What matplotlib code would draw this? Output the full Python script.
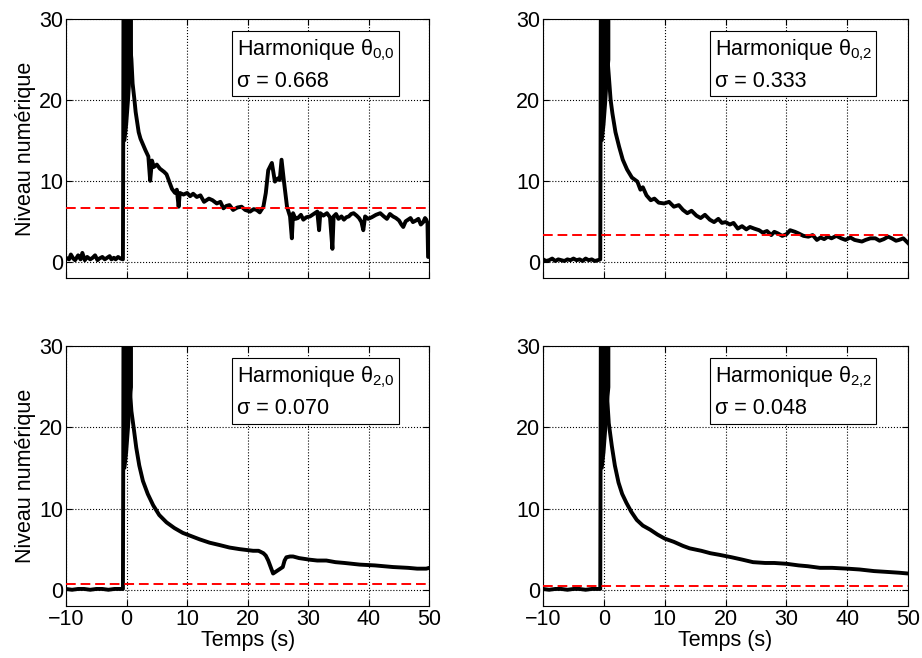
import matplotlib
matplotlib.use("Agg")
import matplotlib.pyplot as plt

plt.rcParams['font.family'] = ['Liberation Sans', 'DejaVu Sans']
plt.rcParams['path.simplify'] = False

# --- data ---
titles = ["0{,}0", "0{,}2", "2{,}0", "2{,}2"]
sigmas = [0.668, 0.333, 0.070, 0.048]

# saturated burst around t = 0 (same in every panel): lower/upper envelope
spike_t = [-0.6, -0.3, 0.0, 0.3, 0.55, 0.8]
spike_lo = [15, 15, 17, 20, 23, 25]
spike_hi = [36, 36, 36, 36, 36, 36]

t00 = [-10, -9.5, -9.2, -8.8, -8.5, -8, -7.6, -7.3, -6.9, -6.5, -6, -5.6, -5.2, -4.8,
       -4.5, -4, -3.6, -3.2, -2.8, -2.5, -2.1, -1.8, -1.4, -1, -0.6, -0.55, -0.5,
       0.8, 1, 1.3, 1.5, 1.8, 2, 2.3, 2.7, 3.1, 3.6, 3.9, 4.2, 4.5, 5, 5.5, 6.2,
       6.6, 7, 7.5, 8, 8.3, 8.6, 8.8, 9.4, 10, 10.5, 11, 11.6, 12.2, 12.8, 13.6, 14.2, 14.9,
       15.5, 16, 16.5, 17, 17.6, 18.3, 19, 19.6, 20.4, 21, 21.5, 22, 22.6, 23, 23.4, 24,
       24.5, 25, 25.3, 25.6, 26, 26.5, 27, 27.3, 27.5, 27.9, 28.3, 28.8, 29.2, 29.7, 30.3,
       30.9, 31.5, 31.8, 32, 32.5, 33.1, 33.6, 34, 34.2, 34.6, 35, 35.5, 35.9, 36.3, 36.7,
       37.1, 37.5, 38, 38.4, 38.8, 39.1, 39.4, 39.9, 40.5, 41.2, 41.9, 42.5, 43, 43.5,
       44, 44.5, 45, 45.4, 45.7, 46.1, 46.5, 46.9, 47.3, 47.8, 48.2, 48.6, 49, 49.3, 49.5,
       49.7, 49.8, 50]
v00 = [0.5, 0.3, 0.9, 0.4, 0.2, 0.8, 0.3, 1.1, 0.2, 0.6, 0.3, 0.5, 0.8, 0.2,
       0.4, 0.6, 0.3, 0.5, 0.7, 0.3, 0.5, 0.3, 0.6, 0.4, 0.3, 15, 36,
       25, 22, 20, 18.5, 17, 16, 15.2, 14.5, 13.8, 13, 10, 12.5, 11.7, 12, 11.5, 11.1,
       10.8, 10, 9, 8.5, 8.9, 6.8, 8.5, 8.3, 8.5, 8.1, 8.4, 8.0, 8.2, 7.4, 7.8, 7.6, 7.2,
       7.4, 6.6, 6.9, 7.0, 6.4, 6.7, 6.8, 6.4, 6.2, 6.5, 6.4, 6.1, 6.8, 8.5, 11.3, 12.2,
       9.9, 10.3, 10.1, 12.6, 9.9, 6.8, 5.6, 2.9, 6, 5.3, 5.4, 5.8, 5.2, 5.5, 5.6,
       5.9, 6.2, 3.9, 6, 5.7, 6, 5.5, 1.6, 5.6, 5.9, 5.3, 5.6, 5.2, 5.5, 5.6,
       5.9, 6, 5.7, 5.4, 4.9, 3.9, 5.6, 5.3, 5.5, 5.8, 6, 5.6, 5.3, 5.9,
       5.6, 5.4, 5.1, 4.6, 4.3, 5.0, 5.2, 5.4, 4.9, 5.1, 5.3, 4.6, 4.9, 5.4, 5.2,
       4.8, 0.6, 0.6]

t02 = [-10, -9.5, -9, -8.5, -8, -7.5, -7, -6.5, -6, -5.5, -5, -4.5, -4, -3.5, -3, -2.5,
       -2, -1.5, -1, -0.6, -0.55, -0.5,
       0.8, 1.1, 1.4, 1.9, 2.5, 3.1, 3.8, 4.6, 5.5, 6, 6.4, 7, 7.7, 8.3, 9, 9.9, 10.7, 11.5,
       12.3, 13, 13.7, 14.4, 15.2, 15.9, 16.6, 17.4, 18.1, 18.8, 19.4, 20, 20.7, 21.3, 22,
       22.7, 23.4, 24, 24.7, 25.5, 26.1, 26.8, 27.5, 28, 28.6, 29.3, 30, 30.6, 31.4, 32,
       32.8, 33.6, 34.3, 35, 35.6, 36.2, 36.8, 37.4, 38.2, 39, 39.7, 40.5, 41.2, 42.4,
       43, 43.8, 44.6, 45.3, 46, 46.7, 47.3, 48, 48.5, 49.2, 50]
v02 = [0.3, 0.1, 0.2, 0.4, 0.1, 0.3, 0.2, 0.1, 0.3, 0.2, 0.4, 0.2, 0.3, 0.1, 0.4, 0.2,
       0.3, 0.1, 0.2, 0.3, 15, 36,
       23, 20, 18.3, 16, 14.2, 12.6, 11.4, 10.4, 9.9, 8.9, 9.2, 8.2, 7.6, 7.8, 7.3, 7.2,
       7.4, 6.8, 7.0, 6.4, 6.0, 6.3, 5.7, 5.4, 5.8, 5.2, 4.9, 5.3, 4.8, 4.9, 4.6, 4.8,
       4.1, 4.4, 4.0, 4.3, 4.1, 3.9, 3.6, 3.8, 3.3, 3.7, 3.5, 3.2, 3.4, 3.9, 3.7, 3.5,
       3.2, 3.1, 3.3, 2.7, 3.0, 2.8, 3.1, 2.9, 3.2, 2.9, 2.7, 3.0, 2.7, 2.5,
       2.7, 2.9, 2.9, 2.6, 2.8, 3.1, 2.9, 2.6, 2.7, 2.9, 2.3]

t20 = [-10, -9, -8, -7, -6, -5, -4, -3, -2, -1, -0.6, -0.55, -0.5,
       0.8, 1.2, 1.6, 2.1, 2.7, 3.5, 4.4, 5.4, 6.6, 7.9, 9.3, 10.7, 12.1, 13.7, 15.4, 17,
       18.7, 19.8, 20.9, 21.8, 22.6, 23, 23.4, 23.8, 24.2, 24.6, 25, 25.4, 25.8, 26.1,
       26.4, 27, 27.5, 28.5, 29.4, 30.3, 31.5, 33, 34.5, 36, 38.5, 41, 44, 46.5, 48, 49.5,
       50]
v20 = [0.1, 0.0, 0.1, 0.1, 0.0, 0.1, 0.1, 0.0, 0.1, 0.1, 0.1, 15, 36,
       22, 19.8, 17.5, 15.3, 13.4, 11.8, 10.4, 9.2, 8.3, 7.6, 7.0, 6.6, 6.2, 5.8, 5.5, 5.2,
       5.0, 4.9, 4.8, 4.8, 4.5, 4.2, 3.6, 2.8, 2.0, 2.2, 2.4, 2.6, 2.8, 3.6,
       4.0, 4.1, 4.1, 3.9, 3.8, 3.7, 3.6, 3.6, 3.4, 3.3, 3.1, 3.0, 2.8, 2.7, 2.6, 2.6,
       2.7]

t22 = [-10, -9, -8, -7, -6, -5, -4, -3, -2, -1, -0.6, -0.55, -0.5,
       0.8, 1.3, 1.8, 2.4, 3, 3.7, 4.5, 5.4, 6.4, 7.6, 8.8, 10, 11.5, 13, 14.1, 16, 17.5,
       19, 21, 22.8, 24.5, 26.5, 28, 30, 32, 33.5, 35.5, 37.5, 40, 42, 44.4, 46.5, 48.5,
       50]
v22 = [0.1, 0.0, 0.1, 0.1, 0.0, 0.1, 0.1, 0.0, 0.1, 0.1, 0.1, 15, 36,
       20.5, 17.7, 15.3, 13.2, 11.8, 10.7, 9.6, 8.6, 7.9, 7.4, 6.8, 6.3, 5.9, 5.4, 5.1,
       4.8, 4.5, 4.3, 4.0, 3.7, 3.4, 3.3, 3.3, 3.2, 3.0, 2.9, 2.7, 2.7, 2.6, 2.5, 2.3,
       2.2, 2.1, 2.0]

series = [(t00, v00), (t02, v02), (t20, v20), (t22, v22)]

fig = plt.figure(figsize=(9.22, 6.58), dpi=100)
positions = [
    [0.0716, 0.5775, 0.394, 0.394],
    [0.589, 0.5775, 0.396, 0.394],
    [0.0716, 0.079, 0.394, 0.395],
    [0.589, 0.079, 0.396, 0.395],
]

for i, pos in enumerate(positions):
    ax = fig.add_axes(pos)
    t, v = series[i]
    ax.fill_between(spike_t, spike_lo, spike_hi, fc='black', ec='black', lw=1.5, zorder=2)
    ax.plot(t, v, color='black', lw=2.8, solid_joinstyle='round', zorder=3)
    ax.axhline(sigmas[i] * 10, color='red', lw=1.4, ls=(0, (5, 2.5)), zorder=4)
    ax.set_xlim(-10, 50)
    ax.set_ylim(-2, 30)
    ax.set_xticks(range(-10, 51, 10))
    ax.set_yticks([0, 10, 20, 30])
    ax.grid(True, color='black', ls=':', lw=0.8)
    ax.tick_params(direction='in', top=True, right=True, labelsize=15.5, length=4, pad=2)
    for s in ax.spines.values():
        s.set_linewidth(0.8)
    if i < 2:
        ax.set_xticklabels([])
    else:
        ax.set_xlabel("Temps (s)", fontsize=15.5, labelpad=0)
    if i % 2 == 0:
        ax.set_ylabel("Niveau numérique", fontsize=15.5, labelpad=2)
    label = f"Harmonique $\\mathregular{{θ_{{{titles[i]}}}}}$\nσ = {sigmas[i]:.3f}"
    ax.text(0.47, 0.928, label, transform=ax.transAxes, fontsize=15.5,
            va='top', ha='left', linespacing=1.5, zorder=5,
            bbox=dict(boxstyle='square,pad=0.2', fc='white', ec='black', lw=0.8))

fig.savefig("out.png", dpi=100)
